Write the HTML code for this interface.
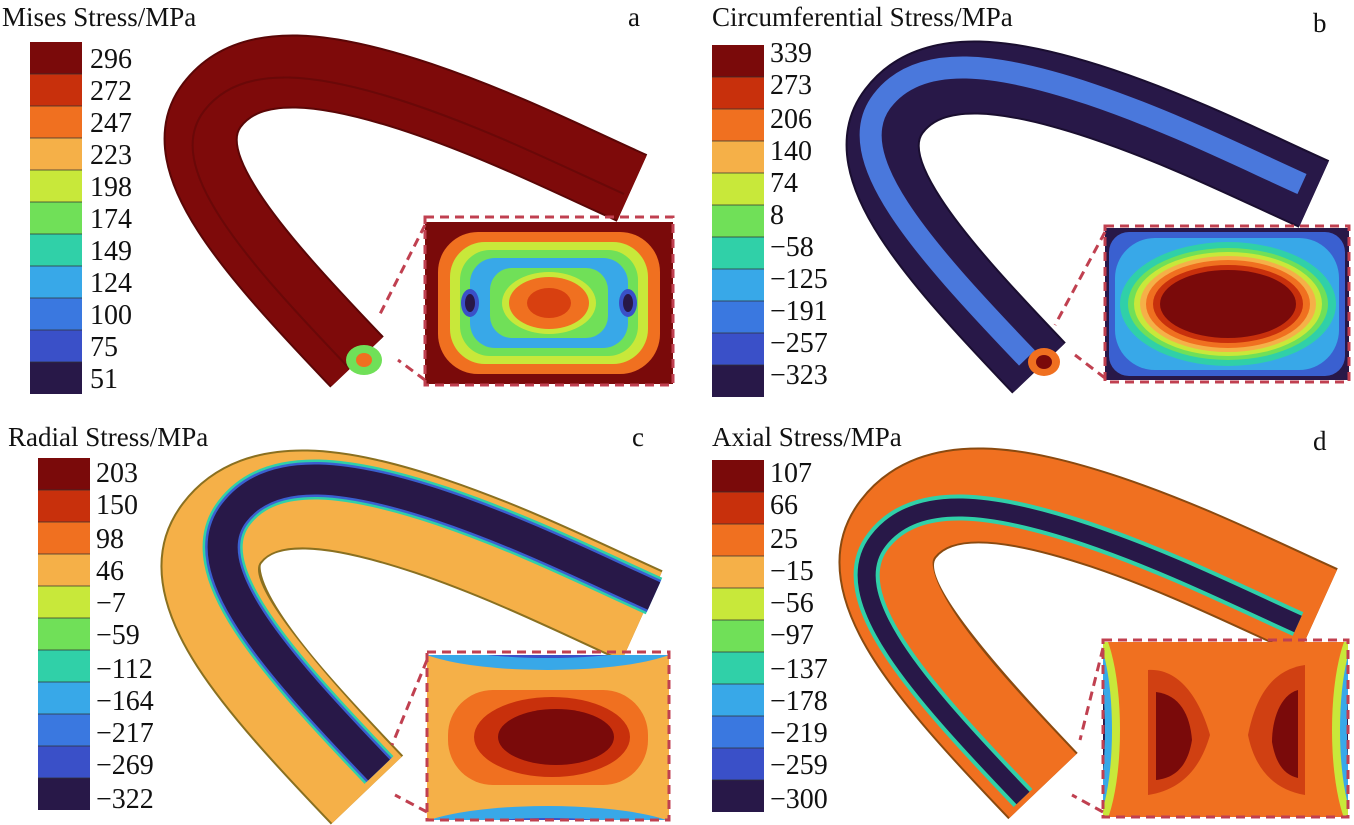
<!DOCTYPE html>
<html><head><meta charset="utf-8"><style>
html,body{margin:0;padding:0;background:#fff;width:1354px;height:825px;overflow:hidden}
svg{display:block}
text{font-family:"Liberation Serif",serif;fill:#111}
.t{font-size:27px}.l{font-size:28px}
</style></head><body>
<svg width="1354" height="825" viewBox="0 0 1354 825" xmlns="http://www.w3.org/2000/svg">
<defs>
<g id="bar">
<rect x="0" y="0" width="52" height="32" fill="#7a0a0a"/>
<rect x="0" y="32" width="52" height="32" fill="#c8300c"/>
<rect x="0" y="64" width="52" height="32" fill="#f07020"/>
<rect x="0" y="96" width="52" height="32" fill="#f5b048"/>
<rect x="0" y="128" width="52" height="32" fill="#c8e83a"/>
<rect x="0" y="160" width="52" height="32" fill="#70e058"/>
<rect x="0" y="192" width="52" height="32" fill="#30d0a8"/>
<rect x="0" y="224" width="52" height="32" fill="#38a8e8"/>
<rect x="0" y="256" width="52" height="32" fill="#3a78e0"/>
<rect x="0" y="288" width="52" height="32" fill="#3a50c8"/>
<rect x="0" y="320" width="52" height="32" fill="#281848"/>
<g stroke="#333" stroke-width="1.2" opacity="0.6"><line x1="0" x2="52" y1="32" y2="32"/><line x1="0" x2="52" y1="64" y2="64"/><line x1="0" x2="52" y1="96" y2="96"/><line x1="0" x2="52" y1="128" y2="128"/><line x1="0" x2="52" y1="160" y2="160"/><line x1="0" x2="52" y1="192" y2="192"/><line x1="0" x2="52" y1="224" y2="224"/><line x1="0" x2="52" y1="256" y2="256"/><line x1="0" x2="52" y1="288" y2="288"/><line x1="0" x2="52" y1="320" y2="320"/></g>
</g>
<path id="tube" d="M 357,362 C 250,250 170,160 212,105 C 250,55 330,68 420,98 C 500,125 570,160 632,188" fill="none"/>
<clipPath id="ca"><rect x="425" y="222" width="248" height="162"/></clipPath>
<clipPath id="cb"><rect x="1105" y="228" width="244" height="152"/></clipPath>
<clipPath id="cc"><rect x="427" y="655" width="242" height="165"/></clipPath>
<clipPath id="cd"><rect x="1103" y="642" width="245" height="175"/></clipPath>
</defs>

<!-- Panel a -->
<text class="t" x="2" y="26">Mises Stress/MPa</text>
<text class="t" x="628" y="26">a</text>
<use href="#bar" x="30" y="42"/>
<g class="l"><text x="90" y="68">296</text><text x="90" y="100">272</text><text x="90" y="132">247</text><text x="90" y="164">223</text><text x="90" y="196">198</text><text x="90" y="228">174</text><text x="90" y="260">149</text><text x="90" y="292">124</text><text x="90" y="324">100</text><text x="90" y="356">75</text><text x="90" y="388">51</text></g>
<use href="#tube" stroke="#5a0606" stroke-width="74"/>
<use href="#tube" stroke="#7e0a0a" stroke-width="70"/>
<use href="#tube" stroke="#6a0808" stroke-width="2" transform="translate(-8,6)"/>
<g clip-path="url(#ca)">
<rect x="425" y="222" width="248" height="162" fill="#7a0a0a"/>
<rect x="438" y="232" width="222" height="142" rx="40" fill="#f07020"/>
<rect x="450" y="242" width="198" height="122" rx="35" fill="#c8e83a"/>
<rect x="460" y="250" width="178" height="106" rx="30" fill="#70e058"/>
<rect x="470" y="258" width="158" height="90" rx="25" fill="#38a8e8"/>
<rect x="490" y="268" width="118" height="70" rx="22" fill="#70e058"/>
<ellipse cx="549" cy="303" rx="47" ry="31" fill="#c8e83a"/>
<ellipse cx="549" cy="303" rx="40" ry="26" fill="#f07020"/>
<ellipse cx="549" cy="303" rx="22" ry="15" fill="#d84010"/>
<ellipse cx="470" cy="303" rx="9" ry="14" fill="#3a50c8"/><ellipse cx="470" cy="303" rx="5" ry="9" fill="#281848"/>
<ellipse cx="628" cy="303" rx="9" ry="14" fill="#3a50c8"/><ellipse cx="628" cy="303" rx="5" ry="9" fill="#281848"/>
</g>
<rect x="425" y="217" width="248" height="168" fill="none" stroke="#c04050" stroke-width="3" stroke-dasharray="9,6"/>
<path d="M 425,225 L 378,318 M 425,380 L 398,360" stroke="#c04050" stroke-width="3" stroke-dasharray="9,6" fill="none"/>
<ellipse cx="364" cy="360" rx="18" ry="15" fill="#70e058"/><ellipse cx="364" cy="360" rx="8" ry="7" fill="#f07020"/>

<!-- Panel b -->
<text class="t" x="712" y="26">Circumferential Stress/MPa</text>
<text class="t" x="1313" y="32">b</text>
<use href="#bar" x="712" y="45"/>
<g class="l"><text x="770" y="62">339</text><text x="770" y="94">273</text><text x="770" y="128">206</text><text x="770" y="160">140</text><text x="770" y="192">74</text><text x="770" y="224">8</text><text x="770" y="256">−58</text><text x="770" y="288">−125</text><text x="770" y="320">−191</text><text x="770" y="352">−257</text><text x="770" y="384">−323</text></g>
<g transform="translate(682,6)">
<use href="#tube" stroke="#1a0e30" stroke-width="74"/>
<use href="#tube" stroke="#281848" stroke-width="70"/>
<use href="#tube" stroke="#4a78dc" stroke-width="22" transform="translate(-12,-10)"/>
</g>
<g clip-path="url(#cb)">
<rect x="1105" y="228" width="244" height="152" fill="#281848"/>
<rect x="1109" y="232" width="236" height="144" rx="20" fill="#3a60d0"/>
<rect x="1115" y="238" width="224" height="132" rx="40" fill="#38a8e8"/>
<ellipse cx="1228" cy="304" rx="108" ry="62" fill="#30d0a8"/>
<ellipse cx="1228" cy="304" rx="100" ry="56" fill="#70e058"/>
<ellipse cx="1228" cy="304" rx="94" ry="52" fill="#c8e83a"/>
<ellipse cx="1228" cy="304" rx="88" ry="48" fill="#f5b048"/>
<ellipse cx="1228" cy="304" rx="82" ry="44" fill="#f07020"/>
<ellipse cx="1228" cy="304" rx="75" ry="39" fill="#c8300c"/>
<ellipse cx="1228" cy="304" rx="68" ry="34" fill="#7a0a0a"/>
</g>
<rect x="1105" y="226" width="244" height="156" fill="none" stroke="#c04050" stroke-width="3" stroke-dasharray="9,6"/>
<path d="M 1105,232 L 1055,325 M 1105,378 L 1075,355" stroke="#c04050" stroke-width="3" stroke-dasharray="9,6" fill="none"/>
<ellipse cx="1044" cy="362" rx="16" ry="14" fill="#f07020"/><ellipse cx="1044" cy="362" rx="8" ry="7" fill="#7a0a0a"/>

<!-- Panel c -->
<text class="t" x="8" y="446">Radial Stress/MPa</text>
<text class="t" x="632" y="446">c</text>
<use href="#bar" x="38" y="458"/>
<g class="l"><text x="96" y="482">203</text><text x="96" y="514">150</text><text x="96" y="548">98</text><text x="96" y="580">46</text><text x="96" y="612">−7</text><text x="96" y="644">−59</text><text x="96" y="678">−112</text><text x="96" y="710">−164</text><text x="96" y="742">−217</text><text x="96" y="774">−269</text><text x="96" y="808">−322</text></g>
<g transform="translate(10,428)">
<use href="#tube" stroke="#8a7020" stroke-width="100"/>
<use href="#tube" stroke="#f5b048" stroke-width="96"/>
<use href="#tube" stroke="#30d0a8" stroke-width="40" transform="translate(12,-20)"/>
<use href="#tube" stroke="#3a60d0" stroke-width="35" transform="translate(12,-20)"/>
<use href="#tube" stroke="#281848" stroke-width="30" transform="translate(12,-20)"/>
</g>
<g clip-path="url(#cc)">
<rect x="427" y="655" width="242" height="165" fill="#f5b048"/>
<ellipse cx="548" cy="640" rx="140" ry="30" fill="#38a8e8"/><ellipse cx="548" cy="636" rx="120" ry="22" fill="#3a50c8"/>
<ellipse cx="548" cy="836" rx="140" ry="30" fill="#38a8e8"/><ellipse cx="548" cy="840" rx="120" ry="22" fill="#3a50c8"/>
<rect x="448" y="690" width="200" height="95" rx="45" fill="#f07020"/>
<ellipse cx="552" cy="737" rx="78" ry="40" fill="#c8300c"/>
<ellipse cx="556" cy="737" rx="58" ry="28" fill="#7a0a0a"/>
</g>
<rect x="427" y="652" width="242" height="168" fill="none" stroke="#c04050" stroke-width="3" stroke-dasharray="9,6"/>
<path d="M 427,660 L 392,745 M 427,812 L 395,795" stroke="#c04050" stroke-width="3" stroke-dasharray="9,6" fill="none"/>

<!-- Panel d -->
<text class="t" x="712" y="446">Axial Stress/MPa</text>
<text class="t" x="1313" y="450">d</text>
<use href="#bar" x="712" y="460"/>
<g class="l"><text x="770" y="482">107</text><text x="770" y="514">66</text><text x="770" y="548">25</text><text x="770" y="580">−15</text><text x="770" y="612">−56</text><text x="770" y="644">−97</text><text x="770" y="678">−137</text><text x="770" y="710">−178</text><text x="770" y="742">−219</text><text x="770" y="774">−259</text><text x="770" y="808">−300</text></g>
<g transform="translate(686,424)">
<use href="#tube" stroke="#8a4a10" stroke-width="96"/>
<use href="#tube" stroke="#f07020" stroke-width="92"/>
<use href="#tube" stroke="#30d0a8" stroke-width="26" transform="translate(-20,12)"/>
<use href="#tube" stroke="#281848" stroke-width="18" transform="translate(-20,12)"/>
</g>
<g clip-path="url(#cd)">
<rect x="1103" y="642" width="245" height="175" fill="#f07020"/>
<ellipse cx="1090" cy="730" rx="30" ry="110" fill="#c8e83a"/><ellipse cx="1088" cy="730" rx="24" ry="100" fill="#38a8e8"/><ellipse cx="1085" cy="730" rx="20" ry="95" fill="#281848"/>
<ellipse cx="1362" cy="730" rx="30" ry="110" fill="#c8e83a"/><ellipse cx="1364" cy="730" rx="24" ry="100" fill="#38a8e8"/><ellipse cx="1367" cy="730" rx="20" ry="95" fill="#281848"/>
<path d="M 1148,670 C 1180,668 1200,700 1210,735 C 1200,770 1180,790 1148,795 Z" fill="#d04012"/>
<path d="M 1156,692 C 1180,695 1190,715 1192,740 C 1188,765 1176,778 1156,780 Z" fill="#7a0a0a"/>
<path d="M 1305,665 C 1270,670 1255,700 1248,735 C 1255,770 1275,790 1305,795 Z" fill="#d04012"/>
<path d="M 1298,690 C 1280,695 1272,720 1272,742 C 1276,765 1285,775 1298,778 Z" fill="#7a0a0a"/>
</g>
<rect x="1103" y="640" width="245" height="177" fill="none" stroke="#c04050" stroke-width="3" stroke-dasharray="9,6"/>
<path d="M 1103,648 L 1080,740 M 1103,812 L 1072,795" stroke="#c04050" stroke-width="3" stroke-dasharray="9,6" fill="none"/>
</svg>
</body></html>
